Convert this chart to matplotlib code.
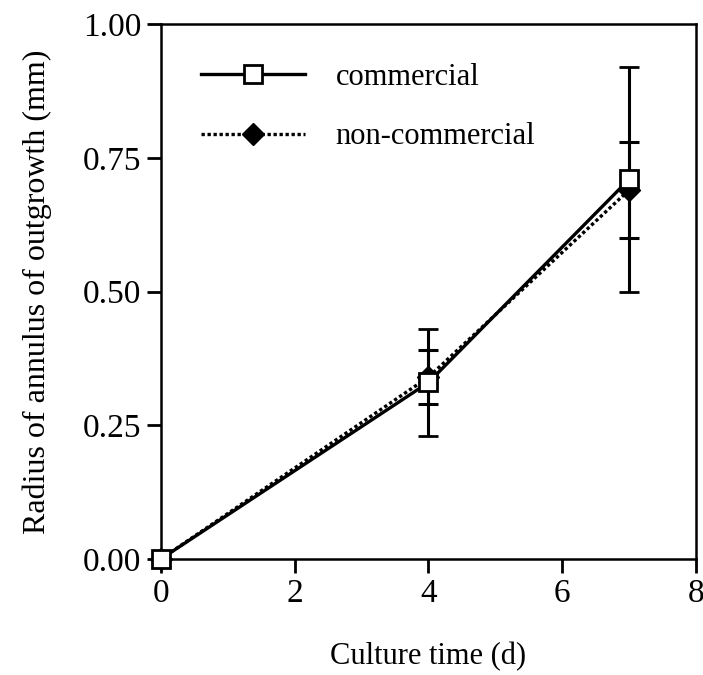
import matplotlib
matplotlib.use("Agg")
import matplotlib.pyplot as plt
from matplotlib.lines import Line2D

# Radius of annulus of outgrowth vs culture time
days = [0, 4, 7]
commercial = [0.0, 0.33, 0.71]
commercial_err = [0.0, 0.10, 0.21]
noncommercial = [0.0, 0.34, 0.69]
noncommercial_err = [0.0, 0.05, 0.09]

plt.rcParams['font.family'] = ['Liberation Serif', 'DejaVu Serif']

dotted = (0, (1, 0.8))

fig = plt.figure(figsize=(7.03, 6.75), dpi=100)
ax = fig.add_axes([0.229, 0.172, 0.761, 0.792])

# non-commercial first so the open squares sit on top
nc = ax.errorbar(days, noncommercial, yerr=noncommercial_err, color='black',
                 linestyle=dotted, linewidth=2.4, marker='D', markersize=11,
                 markerfacecolor='black', markeredgecolor='black',
                 ecolor='black', elinewidth=2.2, capsize=7, capthick=2.2,
                 zorder=3)
cm = ax.errorbar(days, commercial, yerr=commercial_err, color='black',
                 linestyle='-', linewidth=2.4, marker='s', markersize=13,
                 markerfacecolor='white', markeredgecolor='black', markeredgewidth=2,
                 ecolor='black', elinewidth=2.2, capsize=7, capthick=2.2,
                 zorder=4)
nc[0].set_clip_on(False)
cm[0].set_clip_on(False)

ax.set_xlim(0, 8)
ax.set_ylim(0, 1.0)
ax.set_xticks([0, 2, 4, 6, 8])
ax.set_yticks([0, 0.25, 0.5, 0.75, 1.0])
ax.set_yticklabels(['0.00', '0.25', '0.50', '0.75', '1.00'])
ax.tick_params(direction='out', length=10, width=2, labelsize=24, pad=4)

for s in ax.spines.values():
    s.set_linewidth(1.8)

ax.set_xlabel('Culture time (d)', fontsize=22, labelpad=24)
ax.set_ylabel('Radius of annulus of outgrowth (mm)', fontsize=23, labelpad=22)

h_cm = Line2D([], [], color='black', linestyle='-', linewidth=2.4, marker='s',
              markersize=13, markerfacecolor='white', markeredgewidth=2)
h_nc = Line2D([], [], color='black', linestyle=dotted, linewidth=2.4, marker='D',
              markersize=11, markerfacecolor='black')
ax.legend([h_cm, h_nc], ['commercial', 'non-commercial'], loc='upper left',
          frameon=False, fontsize=22, handlelength=3.4, handletextpad=1.0,
          labelspacing=1.0, borderpad=0, borderaxespad=0,
          bbox_to_anchor=(0.075, 0.928), numpoints=1)

fig.savefig('out.png', dpi=100)
